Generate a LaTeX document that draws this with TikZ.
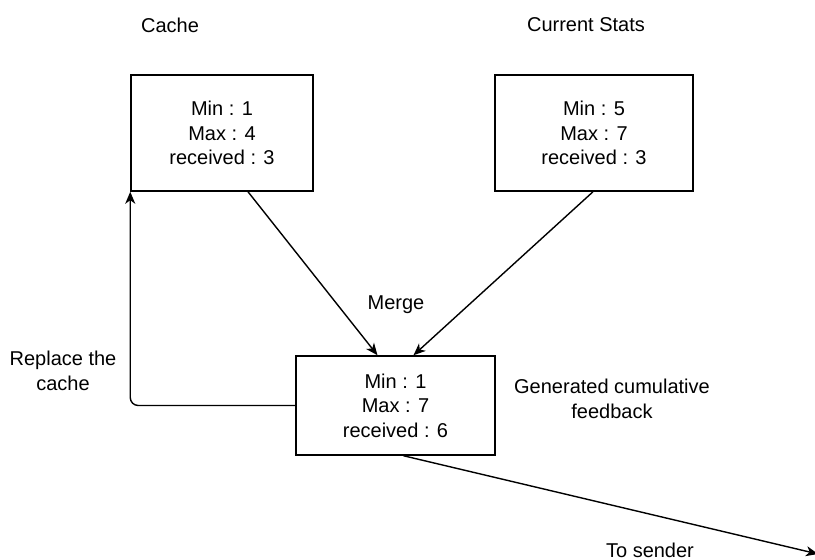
\documentclass[tikz,border=0pt]{standalone}
\usepackage{fontspec}
\setmainfont{Liberation Sans}
\usetikzlibrary{arrows.meta,positioning}
\begin{document}
\begin{tikzpicture}[x=1bp,y=-1bp,
  every node/.style={font=\fontsize{20bp}{24.5bp}\selectfont, inner sep=0pt, align=center},
  box/.style={draw, line width=1.5bp, rectangle},
  conn/.style={line width=1.4bp, -{Stealth[length=12bp,width=10bp,inset=3.5bp]}},
  lbl/.style={}
]
\useasboundingbox (0,0) rectangle (815,560);
\node[box, minimum width=182bp, minimum height=116bp] (cache) at (222,133) {Min : 1\\Max : 4\\received : 3};
\node[box, minimum width=198bp, minimum height=116bp] (cur) at (594,133) {Min : 5\\Max : 7\\received : 3};
\node[box, minimum width=199bp, minimum height=99bp] (merge) at (395.5,405.5) {Min : 1\\Max : 7\\received : 6};

\node[lbl] (tcache) at (170,25) {Cache};
\node[lbl] (tcur) at (586,25) {Current Stats};
\node[lbl] (tmerge) at (396,305) {Merge};
\node[lbl] (treplace) at (63,371) {Replace the\\cache};
\node[lbl] (tgen) at (612,399) {Generated cumulative\\feedback};
\node[lbl] (tsend) at (650,550) {To sender};

\coordinate (sender) at (818,554);

\draw[conn] ([xshift=26bp]cache.south) -- ([xshift=-18bp]merge.north);
\draw[conn] ([xshift=-1bp]cur.south) -- ([xshift=18bp]merge.north);
\draw[conn, rounded corners=8bp] (merge.west) -| (cache.south west);
\draw[conn] ([xshift=8bp]merge.south) -- (sender);
\end{tikzpicture}
\end{document}
